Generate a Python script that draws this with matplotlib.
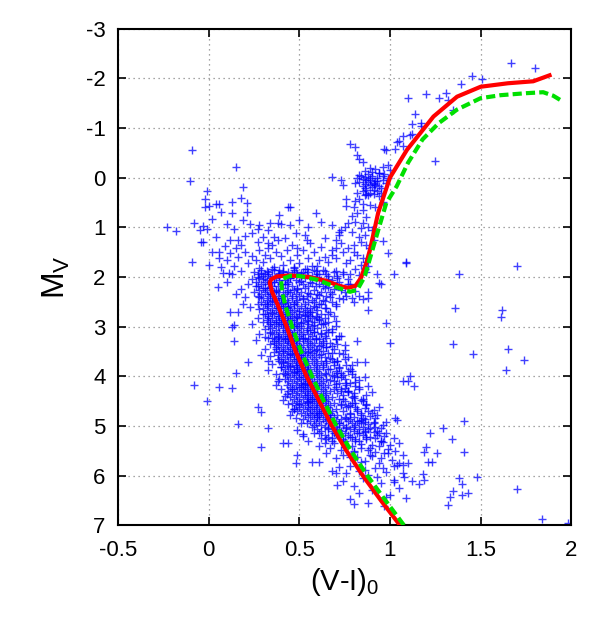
import matplotlib
matplotlib.use("Agg")
import matplotlib.pyplot as plt

plt.rcParams['font.family'] = ['Liberation Sans', 'DejaVu Sans']
plt.rcParams['mathtext.default'] = 'regular'
plt.rcParams['axes.unicode_minus'] = False

# isochrones (V-I)_0 vs M_V
iso1_vi = [1.055, 0.95, 0.85, 0.76, 0.68, 0.61, 0.54, 0.48, 0.43, 0.38, 0.35, 0.337, 0.345, 0.375,
           0.45, 0.55, 0.65, 0.72, 0.77, 0.81, 0.84, 0.87, 0.89, 0.935, 1.0, 1.094, 1.24, 1.37,
           1.50, 1.65, 1.79, 1.88]
iso1_mv = [7.0, 6.5, 6.0, 5.5, 5.0, 4.5, 4.0, 3.5, 3.0, 2.55, 2.3, 2.12, 2.05, 1.99,
           1.97, 2.0, 2.08, 2.18, 2.22, 2.18, 2.02, 1.72, 1.45, 0.71, 0.0, -0.56, -1.23, -1.63,
           -1.83, -1.9, -1.94, -2.06]

iso2_vi = [1.077, 0.975, 0.875, 0.785, 0.705, 0.635, 0.57, 0.51, 0.46, 0.425, 0.405, 0.40, 0.45,
           0.5, 0.6, 0.7, 0.78, 0.82, 0.86, 0.90, 0.94, 0.98, 1.037, 1.10, 1.18, 1.27, 1.37,
           1.5, 1.61, 1.75, 1.845, 1.90, 1.95]
iso2_mv = [7.0, 6.5, 6.0, 5.5, 5.0, 4.5, 4.0, 3.5, 3.0, 2.6, 2.3, 2.05, 1.98,
           1.98, 2.06, 2.2, 2.3, 2.26, 2.0, 1.5, 1.0, 0.51, 0.175, -0.3, -0.77, -1.1, -1.37,
           -1.6, -1.66, -1.7, -1.72, -1.65, -1.54]

# red giant branch and brighter stars
giants = [(1.67, -2.30), (1.80, -2.20), (1.45, -2.04), (1.51, -1.98), (1.39, -1.88), (1.10, -1.61),
          (1.20, -1.69), (1.27, -1.61), (1.31, -1.71), (1.32, -1.57), (1.35, -1.37), (1.14, -1.29),
          (1.12, -1.07), (1.17, -1.09), (1.17, -1.03), (1.11, -0.85), (1.07, -0.83), (1.04, -0.71),
          (1.05, -0.74), (1.03, -0.58), (1.07, -0.63), (0.98, -0.56), (1.25, -0.34), (0.78, -0.68),
          (0.81, -0.61), (0.82, -0.46), (0.83, -0.38), (0.85, -0.32), (1.12, -0.87), (0.97, -0.58),
          (0.96, -0.22), (0.99, -0.26), (1.00, -0.16), (0.94, -0.10), (0.68, -0.02), (0.73, 0.04),
          (0.74, 0.14), (0.82, 0.30), (0.81, 0.48), (0.76, 0.44), (0.83, 0.44), (0.85, 0.54),
          (0.94, 0.38), (0.96, 0.50), (0.92, 0.60), (0.85, 0.65), (0.82, 0.71), (0.87, 0.79),
          (0.85, 0.91), (0.81, 0.89), (0.77, 0.91), (0.75, 0.99), (0.73, 1.05), (0.72, 1.09),
          (0.88, 0.99), (0.90, 1.05), (0.86, 1.15), (0.83, 1.19), (0.91, 1.25), (0.87, 1.35),
          (0.89, 1.41), (0.80, 1.35), (0.77, 1.41), (0.74, 1.49), (0.70, 1.41), (0.68, 1.55),
          (0.82, 1.55), (0.85, 1.61), (0.87, 1.69), (0.78, 1.65), (0.76, 1.71), (0.84, 1.75),
          (0.88, 1.79), (0.81, 1.85), (0.87, 1.91), (0.83, 1.97), (0.78, 1.95), (0.74, 1.91),
          (0.70, 1.89), (0.99, 1.51), (1.09, 1.71), (0.95, 2.14), (1.02, 1.94), (1.38, 1.94),
          (1.70, 1.79), (0.93, 1.94), (0.96, 1.27), (0.79, 1.10), (0.84, 1.02), (0.80, 0.60),
          (0.86, 0.35), (0.89, 0.55), (0.79, 0.78), (0.84, 1.30), (0.80, 1.50), (0.86, 1.85)]

# red clump
clump_vi = [0.85, 0.88, 0.91, 0.93, 0.89, 0.86, 0.92, 0.95, 0.83, 0.90, 0.87, 0.94, 0.96, 0.86, 0.89,
            0.92, 0.84, 0.90, 0.97, 0.88, 0.82, 0.93, 0.91, 0.86, 0.98, 0.89, 0.92, 0.85, 0.87, 0.95,
            0.90, 0.93, 0.86, 0.89, 0.83, 0.91, 0.96, 0.88, 0.91, 0.85, 0.81, 0.99, 0.89, 0.94, 0.87]
clump_mv = [0.02, -0.08, 0.10, 0.00, 0.15, -0.14, 0.06, 0.20, 0.08, -0.03, 0.24, -0.10, 0.04, 0.13,
            0.30, -0.17, -0.04, 0.18, -0.07, 0.09, 0.00, 0.27, 0.33, 0.21, 0.11, -0.20, 0.14, 0.17,
            0.04, 0.31, -0.11, 0.07, -0.02, 0.05, -0.06, 0.24, -0.03, 0.36, 0.12, 0.26, 0.10, 0.01,
            0.01, 0.16, 0.34]

# blue stragglers / bright blue region
blue = [(-0.09, -0.56), (-0.10, 0.06), (0.15, -0.22), (-0.01, 0.26), (0.19, 0.18), (-0.23, 1.00),
        (-0.18, 1.07), (-0.09, 1.70), (0.45, 0.59), (0.59, 0.71), (-0.02, 0.44), (0.04, 0.54),
        (0.06, 0.54), (-0.03, 1.29), (-0.02, 0.60), (0.00, 0.58), (0.13, 0.50), (0.18, 0.42),
        (0.21, 0.52), (0.07, 0.69), (0.13, 0.71), (0.21, 0.69), (0.44, 0.60), (0.39, 0.75),
        (0.34, 0.91), (0.38, 0.91), (0.40, 0.93), (0.02, 0.83), (0.10, 0.93), (0.14, 1.03),
        (0.19, 0.85), (0.23, 0.93), (0.27, 1.03), (-0.08, 0.91), (-0.05, 1.05), (-0.03, 0.97),
        (-0.01, 1.03), (-0.04, 1.29), (0.00, 1.76), (0.02, 1.49), (0.06, 1.49), (0.06, 1.61),
        (0.10, 1.65), (0.12, 1.51), (0.15, 1.41), (0.07, 1.81), (0.08, 1.92), (0.12, 1.25),
        (0.16, 1.25), (0.18, 1.35), (0.33, 1.05), (0.36, 1.19), (0.38, 1.25), (0.33, 1.31),
        (0.33, 1.41), (0.31, 1.55), (0.48, 1.11), (0.54, 1.25), (0.56, 1.31), (0.49, 1.41),
        (0.49, 1.55), (0.76, 0.58), (0.68, 0.95), (0.72, 1.15), (0.70, 1.25), (0.73, 1.31),
        (0.68, 1.45), (0.64, 1.59), (0.61, 1.65), (0.60, 1.79), (0.57, 1.79), (0.54, 1.85),
        (0.51, 1.92), (0.20, 1.50), (0.24, 1.58), (0.28, 1.45), (0.26, 1.65), (0.22, 1.72),
        (0.30, 1.70), (0.34, 1.62), (0.37, 1.50), (0.40, 1.58), (0.43, 1.45), (0.45, 1.65),
        (0.41, 1.75), (0.36, 1.80), (0.32, 1.88), (0.28, 1.82), (0.25, 1.90), (0.18, 1.88),
        (0.14, 1.78), (0.11, 1.92), (0.16, 1.60), (0.27, 1.30), (0.30, 1.20), (0.42, 1.22),
        (0.46, 1.35), (0.52, 1.45), (0.55, 1.62), (0.58, 1.50), (0.62, 1.40), (0.64, 1.22),
        (0.50, 1.72), (0.47, 1.82), (0.39, 1.92), (0.53, 1.15), (0.24, 1.12), (0.09, 1.38),
        (0.04, 1.20), (0.28, 0.95), (0.45, 0.95), (0.50, 0.85), (0.62, 0.90), (0.55, 1.00),
        (0.66, 1.70), (0.70, 1.62), (0.64, 1.88), (0.60, 1.95), (0.35, 1.35), (0.20, 1.18),
        (0.13, 1.95), (0.12, 2.70), (0.16, 2.70), (0.13, 3.00), (0.14, 2.96), (0.14, 3.29),
        (0.15, 3.93), (0.22, 3.71), (-0.08, 4.17), (-0.01, 4.50), (0.06, 4.21), (0.13, 4.23),
        (0.16, 4.96), (0.29, 5.42), (0.27, 4.62), (0.29, 4.72), (0.33, 5.04), (0.41, 5.34),
        (0.44, 5.34), (0.48, 5.75), (0.49, 5.58), (0.57, 5.73), (0.70, 5.95), (0.80, 6.57),
        (0.10, 2.10), (0.15, 2.35), (0.05, 2.20), (0.19, 2.55)]

# turnoff and subgiants
turnoff = [(0.30, 2.05), (0.33, 1.95), (0.36, 2.10), (0.39, 1.98), (0.42, 2.15), (0.45, 2.02),
           (0.48, 1.90), (0.51, 2.08), (0.54, 1.97), (0.57, 2.12), (0.60, 2.01), (0.63, 2.18),
           (0.66, 2.05), (0.69, 2.25), (0.72, 2.10), (0.75, 2.30), (0.78, 2.15), (0.31, 2.22),
           (0.34, 2.35), (0.37, 2.28), (0.40, 2.42), (0.43, 2.30), (0.46, 2.38), (0.49, 2.25),
           (0.52, 2.45), (0.55, 2.32), (0.58, 2.50), (0.61, 2.36), (0.64, 2.48), (0.67, 2.40),
           (0.70, 2.55), (0.26, 2.18), (0.28, 2.40), (0.32, 2.55), (0.35, 2.48), (0.38, 2.62),
           (0.41, 2.52), (0.44, 2.60), (0.47, 2.55), (0.50, 2.68), (0.53, 2.62), (0.56, 2.70),
           (0.24, 2.05), (0.29, 1.92), (0.35, 1.85), (0.41, 1.88), (0.47, 1.80), (0.53, 1.85),
           (0.59, 1.88), (0.65, 1.95), (0.71, 1.98), (0.77, 2.05), (0.81, 2.28), (0.79, 2.42),
           (0.74, 2.45), (0.83, 2.38), (0.85, 2.45), (0.88, 2.30), (0.22, 2.15), (0.20, 2.40),
           (0.18, 2.25), (0.23, 2.60), (0.80, 2.50), (0.94, 2.12), (0.88, 2.42), (0.88, 2.66),
           (0.82, 3.29), (0.86, 3.71), (0.25, 2.30), (0.27, 2.55), (0.27, 2.00), (0.62, 2.55),
           (0.65, 2.62), (0.59, 2.60), (0.73, 2.20), (0.76, 2.38), (0.68, 2.35), (0.66, 2.20)]

# dense part of the upper main sequence, one row per magnitude step
band_mv = [1.86, 1.90, 1.94, 1.98, 2.02, 2.06, 2.10, 2.14, 2.18, 2.22, 2.26, 2.30, 2.34, 2.38,
           2.42, 2.46, 2.50, 2.54, 2.58, 2.62, 2.66, 2.70, 2.74, 2.78, 2.82, 2.86, 2.90, 2.94,
           2.98, 3.02, 3.06, 3.10, 3.14, 3.18, 3.22, 3.26, 3.30, 3.34, 3.38, 3.42, 3.46, 3.50,
           3.54, 3.58, 3.62, 3.66, 3.70, 3.74, 3.78, 3.82, 3.86, 3.90, 3.94, 3.98, 4.02, 4.06,
           4.10, 4.14, 4.18, 4.22, 4.26, 4.30, 4.34, 4.38, 4.42, 4.46, 4.50, 4.54, 4.58, 4.62,
           4.66, 4.70, 4.74, 4.78, 4.82, 4.86, 4.90, 4.94, 4.98, 5.02, 5.06, 5.10, 5.14, 5.18,
           5.22, 5.26, 5.30]
band_vi = [[0.29, 0.36, 0.39, 0.47, 0.58, 0.63],
           [0.33, 0.41, 0.44, 0.52, 0.55, 0.69],
           [0.27, 0.31, 0.38, 0.46, 0.49, 0.61, 0.74],
           [0.30, 0.35, 0.43, 0.51, 0.57, 0.66],
           [0.28, 0.34, 0.37, 0.45, 0.53, 0.59, 0.71],
           [0.32, 0.39, 0.42, 0.48, 0.62, 0.68],
           [0.26, 0.31, 0.36, 0.44, 0.50, 0.56, 0.65],
           [0.29, 0.33, 0.40, 0.43, 0.52, 0.61, 0.77],
           [0.27, 0.35, 0.38, 0.46, 0.55, 0.59, 0.70],
           [0.30, 0.34, 0.41, 0.49, 0.53, 0.64],
           [0.28, 0.32, 0.37, 0.44, 0.47, 0.58, 0.73],
           [0.31, 0.36, 0.39, 0.45, 0.51, 0.62, 0.67],
           [0.29, 0.34, 0.42, 0.48, 0.56, 0.60],
           [0.27, 0.33, 0.38, 0.41, 0.50, 0.54, 0.65],
           [0.30, 0.35, 0.40, 0.46, 0.52, 0.59, 0.72],
           [0.32, 0.37, 0.43, 0.49, 0.57, 0.63],
           [0.29, 0.34, 0.39, 0.44, 0.48, 0.55, 0.68],
           [0.31, 0.36, 0.41, 0.47, 0.53, 0.61],
           [0.33, 0.38, 0.42, 0.45, 0.51, 0.58, 0.70],
           [0.30, 0.35, 0.40, 0.44, 0.49, 0.56, 0.64],
           [0.32, 0.37, 0.43, 0.47, 0.54, 0.60],
           [0.34, 0.39, 0.41, 0.46, 0.52, 0.57, 0.67],
           [0.31, 0.36, 0.42, 0.45, 0.50, 0.55, 0.62],
           [0.33, 0.38, 0.44, 0.48, 0.53, 0.59, 0.69],
           [0.35, 0.40, 0.43, 0.47, 0.51, 0.57, 0.64],
           [0.32, 0.37, 0.41, 0.46, 0.54, 0.61],
           [0.34, 0.39, 0.44, 0.49, 0.52, 0.58, 0.66],
           [0.36, 0.40, 0.42, 0.48, 0.55, 0.63],
           [0.33, 0.38, 0.43, 0.47, 0.51, 0.57, 0.70],
           [0.35, 0.41, 0.45, 0.50, 0.54, 0.60],
           [0.37, 0.42, 0.44, 0.49, 0.56, 0.65],
           [0.34, 0.39, 0.43, 0.47, 0.52, 0.58, 0.68],
           [0.36, 0.41, 0.46, 0.51, 0.55, 0.62],
           [0.38, 0.43, 0.45, 0.50, 0.57, 0.64, 0.73],
           [0.35, 0.40, 0.44, 0.48, 0.53, 0.59],
           [0.37, 0.42, 0.47, 0.52, 0.56, 0.61, 0.70],
           [0.39, 0.44, 0.46, 0.50, 0.55, 0.63],
           [0.36, 0.41, 0.45, 0.49, 0.54, 0.58, 0.67],
           [0.38, 0.43, 0.48, 0.52, 0.57, 0.62, 0.75],
           [0.40, 0.45, 0.47, 0.51, 0.56, 0.65],
           [0.37, 0.42, 0.46, 0.50, 0.55, 0.60, 0.69],
           [0.39, 0.44, 0.49, 0.53, 0.58, 0.63],
           [0.41, 0.46, 0.48, 0.52, 0.57, 0.66, 0.72],
           [0.38, 0.43, 0.47, 0.51, 0.56, 0.61],
           [0.40, 0.45, 0.50, 0.54, 0.59, 0.64, 0.77],
           [0.42, 0.47, 0.49, 0.53, 0.58, 0.68],
           [0.39, 0.44, 0.48, 0.52, 0.57, 0.62, 0.71],
           [0.41, 0.46, 0.51, 0.55, 0.60, 0.65],
           [0.43, 0.48, 0.50, 0.54, 0.59, 0.69, 0.76],
           [0.40, 0.45, 0.49, 0.53, 0.58, 0.63, 0.72],
           [0.42, 0.47, 0.52, 0.56, 0.61, 0.67],
           [0.44, 0.49, 0.51, 0.55, 0.60, 0.70, 0.79],
           [0.41, 0.46, 0.50, 0.54, 0.59, 0.64, 0.73],
           [0.43, 0.48, 0.53, 0.57, 0.62, 0.68],
           [0.45, 0.50, 0.52, 0.56, 0.61, 0.71, 0.81],
           [0.42, 0.47, 0.51, 0.55, 0.60, 0.65, 0.75],
           [0.44, 0.49, 0.54, 0.58, 0.63, 0.69],
           [0.46, 0.51, 0.53, 0.57, 0.62, 0.72, 0.78],
           [0.43, 0.48, 0.52, 0.56, 0.61, 0.66, 0.76],
           [0.45, 0.50, 0.55, 0.59, 0.64, 0.70, 0.83],
           [0.47, 0.52, 0.54, 0.58, 0.63, 0.73],
           [0.44, 0.49, 0.53, 0.57, 0.62, 0.67, 0.77],
           [0.46, 0.51, 0.56, 0.60, 0.65, 0.71, 0.80],
           [0.48, 0.53, 0.55, 0.59, 0.64, 0.74],
           [0.45, 0.50, 0.54, 0.58, 0.63, 0.68, 0.79],
           [0.47, 0.52, 0.57, 0.61, 0.66, 0.72, 0.85],
           [0.49, 0.54, 0.56, 0.60, 0.65, 0.75],
           [0.46, 0.51, 0.55, 0.59, 0.64, 0.69, 0.81],
           [0.48, 0.53, 0.58, 0.62, 0.67, 0.73, 0.87],
           [0.50, 0.55, 0.57, 0.61, 0.66, 0.76],
           [0.47, 0.52, 0.56, 0.60, 0.65, 0.70, 0.82],
           [0.49, 0.54, 0.59, 0.63, 0.68, 0.74, 0.88],
           [0.51, 0.56, 0.58, 0.62, 0.67, 0.78],
           [0.53, 0.57, 0.61, 0.66, 0.71, 0.84],
           [0.55, 0.60, 0.64, 0.69, 0.75, 0.80],
           [0.52, 0.58, 0.63, 0.67, 0.73, 0.86],
           [0.56, 0.61, 0.65, 0.70, 0.77, 0.83],
           [0.54, 0.59, 0.66, 0.72, 0.79, 0.91],
           [0.58, 0.62, 0.68, 0.74, 0.81],
           [0.57, 0.64, 0.70, 0.76, 0.85, 0.92],
           [0.60, 0.66, 0.71, 0.78, 0.88],
           [0.62, 0.68, 0.73, 0.80, 0.86],
           [0.61, 0.69, 0.75, 0.83, 0.94],
           [0.64, 0.71, 0.77, 0.85],
           [0.66, 0.72, 0.79, 0.89],
           [0.65, 0.74, 0.81, 0.87],
           [0.68, 0.75, 0.83, 0.95]]

# scattered main-sequence stars
ms = [(0.30, 2.75), (0.33, 2.82), (0.35, 2.72), (0.37, 2.90), (0.39, 2.78), (0.41, 2.95), (0.43, 2.74),
      (0.45, 2.86), (0.47, 2.98), (0.49, 2.80), (0.51, 2.92), (0.53, 2.76), (0.55, 2.88), (0.58, 2.96),
      (0.61, 2.84), (0.34, 2.95), (0.27, 2.82), (0.24, 2.95), (0.56, 2.78),
      (0.64, 2.92), (0.66, 2.75), (0.70, 2.88),
      (0.31, 3.05), (0.34, 3.12), (0.38, 3.20), (0.42, 3.25), (0.46, 3.16), (0.48, 3.28), (0.52, 3.22),
      (0.54, 3.06), (0.59, 3.26), (0.62, 3.12), (0.65, 3.24), (0.33, 3.22), (0.28, 3.15), (0.58, 3.10),
      (0.68, 3.05), (0.72, 3.18), (0.26, 3.28),
      (0.34, 3.35), (0.37, 3.42), (0.41, 3.50), (0.45, 3.55), (0.49, 3.46), (0.51, 3.58), (0.55, 3.52),
      (0.59, 3.48), (0.62, 3.56), (0.65, 3.42), (0.68, 3.54), (0.36, 3.52), (0.31, 3.45), (0.61, 3.40),
      (0.71, 3.35), (0.75, 3.48), (0.29, 3.58), (0.63, 3.33),
      (0.38, 3.65), (0.41, 3.72), (0.45, 3.80), (0.49, 3.85), (0.53, 3.76), (0.55, 3.88), (0.63, 3.78),
      (0.66, 3.86), (0.69, 3.72), (0.72, 3.84), (0.40, 3.82), (0.35, 3.75), (0.65, 3.70),
      (0.75, 3.65), (0.79, 3.78), (0.33, 3.88), (0.67, 3.63), (0.77, 3.90), (0.82, 3.72),
      (0.42, 3.95), (0.47, 3.92), (0.53, 4.15), (0.59, 4.18), (0.65, 3.96), (0.67, 4.08), (0.70, 4.16),
      (0.73, 4.02), (0.76, 4.14), (0.39, 4.05), (0.69, 4.00), (0.79, 3.95), (0.83, 4.08), (0.37, 4.18),
      (0.71, 3.93), (0.81, 4.20), (0.86, 4.02),
      (0.46, 4.25), (0.51, 4.22), (0.57, 4.45), (0.63, 4.48), (0.69, 4.26), (0.74, 4.46), (0.77, 4.32),
      (0.80, 4.44), (0.43, 4.35), (0.73, 4.30), (0.83, 4.25), (0.87, 4.38), (0.41, 4.48), (0.75, 4.23),
      (0.85, 4.50), (0.90, 4.32),
      (0.50, 4.55), (0.55, 4.52), (0.61, 4.75), (0.67, 4.78), (0.73, 4.56), (0.78, 4.76), (0.81, 4.62),
      (0.84, 4.74), (0.47, 4.65), (0.77, 4.60), (0.87, 4.55), (0.91, 4.68), (0.45, 4.78), (0.79, 4.53),
      (0.89, 4.80), (0.94, 4.62),
      (0.60, 4.82), (0.66, 5.05), (0.72, 5.08), (0.78, 4.86), (0.83, 5.06), (0.86, 4.92), (0.89, 5.04),
      (0.51, 4.95), (0.82, 4.90), (0.92, 4.85), (0.96, 4.98), (0.49, 5.08), (0.84, 4.94), (0.93, 5.10),
      (0.98, 4.92),
      (0.58, 5.15), (0.62, 5.25), (0.69, 5.35), (0.75, 5.42), (0.81, 5.30), (0.84, 5.45), (0.87, 5.22),
      (0.90, 5.38), (0.93, 5.18), (0.96, 5.32), (0.99, 5.46), (0.73, 5.48), (0.67, 5.45), (0.55, 5.30),
      (0.61, 5.40), (0.88, 5.48), (0.94, 5.40), (1.02, 5.25), (0.79, 5.40), (0.91, 5.12),
      (0.97, 5.20), (1.05, 5.35), (0.52, 5.16),
      (0.65, 5.55), (0.70, 5.65), (0.74, 5.58), (0.78, 5.80), (0.82, 5.62), (0.86, 5.88), (0.90, 5.60),
      (0.94, 5.75), (0.98, 5.92), (1.01, 5.68), (0.76, 5.95), (0.84, 5.72), (0.92, 5.52), (0.96, 5.85),
      (1.04, 5.78), (0.88, 5.98), (0.72, 5.82), (0.80, 5.52), (0.68, 5.90), (1.07, 5.58), (0.99, 5.55),
      (0.61, 5.72),
      (0.74, 6.10), (0.80, 6.22), (0.85, 6.05), (0.90, 6.30), (0.95, 6.15), (1.00, 6.40), (0.88, 6.55),
      (0.97, 6.62), (1.05, 6.25), (1.09, 6.45), (0.83, 6.35), (0.78, 6.48), (1.12, 6.12), (0.93, 6.02),
      (1.02, 6.08), (0.71, 6.20)]

# redder side of the main sequence (binaries) and a few blue-side stars
ms_wide = [(0.80, 4.40), (0.84, 4.47), (0.78, 4.58), (0.86, 4.64), (0.82, 4.71), (0.90, 4.75),
           (0.76, 4.84), (0.84, 4.88), (0.93, 4.79), (0.88, 4.97), (0.80, 5.03), (0.95, 5.05),
           (0.86, 5.12), (0.78, 5.22), (0.92, 5.24), (0.98, 5.15), (0.84, 5.36), (0.95, 5.30),
           (1.00, 5.38), (0.74, 5.30), (0.80, 5.50), (0.89, 5.58), (0.95, 5.64), (0.86, 5.70),
           (0.78, 5.62), (1.03, 5.50), (0.92, 5.85), (0.83, 5.90), (0.77, 4.30), (0.81, 4.12),
           (0.74, 3.98), (0.78, 3.85), (0.71, 3.70), (0.74, 3.55), (0.68, 3.40), (0.70, 3.25),
           (0.66, 3.10), (0.62, 2.95), (0.60, 2.80), (0.88, 4.20), (0.85, 4.85), (0.97, 5.55),
           (0.91, 4.92), (0.89, 5.45), (0.72, 4.95), (0.70, 5.15), (0.76, 5.05), (0.82, 5.15),
           (0.68, 5.25), (0.64, 5.35), (0.34, 3.60), (0.37, 3.95), (0.40, 4.25), (0.44, 4.55),
           (0.48, 4.85), (0.36, 3.30), (0.31, 3.20), (0.33, 3.70), (0.42, 4.40), (0.46, 4.70),
           (0.52, 5.20), (0.38, 4.10), (0.30, 2.90), (0.28, 2.65)]

# field stars / outliers on the red side
field = [(1.36, 2.62), (1.62, 2.66), (1.61, 2.80), (1.35, 3.35), (1.46, 3.55), (1.65, 3.45), (1.64, 3.87),
         (1.74, 3.67), (0.98, 2.92), (1.00, 3.33), (1.07, 4.09), (1.10, 4.09), (1.11, 3.99), (1.13, 4.19),
         (1.03, 4.84), (1.04, 4.88), (1.41, 4.90), (1.29, 5.04), (1.22, 5.14), (1.34, 5.26), (1.20, 5.42),
         (1.19, 5.52), (1.21, 5.73), (1.23, 5.73), (1.26, 5.54), (1.41, 5.52), (1.05, 5.75), (1.07, 5.78),
         (1.10, 5.75), (1.02, 5.80), (1.07, 5.95), (1.08, 6.03), (1.18, 5.97), (1.19, 6.09), (1.16, 6.17),
         (1.02, 6.13), (1.38, 6.05), (1.48, 6.03), (1.40, 6.17), (1.35, 6.31), (1.33, 6.43), (1.32, 6.59),
         (1.40, 6.39), (1.43, 6.35), (1.70, 6.27), (1.84, 6.87), (1.98, 6.95), (0.98, 6.43), (1.09, 1.70)]

xticks = [-0.5, 0, 0.5, 1, 1.5, 2]
xticklabels = ['-0.5', '0', '0.5', '1', '1.5', '2']
yticks = [-3, -2, -1, 0, 1, 2, 3, 4, 5, 6, 7]

fig = plt.figure(figsize=(6.11, 6.23), dpi=100)
ax = fig.add_axes([0.193, 0.157, 0.742, 0.797])

# collect every star
stars = giants + blue + turnoff + ms + ms_wide + field + list(zip(clump_vi, clump_mv))
for m, row in zip(band_mv, band_vi):
    stars += [(v, m) for v in row]
vi = [p[0] for p in stars]
mv = [p[1] for p in stars]
ax.plot(vi, mv, '+', color='#0000ff', ms=6, mew=1.0, alpha=0.75, zorder=2)

ax.plot(iso1_vi, iso1_mv, color='#ff0000', lw=3, zorder=3)
ax.plot(iso2_vi, iso2_mv, color='#00e000', lw=3, ls=(0, (2.2, 1.0)), zorder=4)

ax.set_xlim(-0.5, 2)
ax.set_ylim(7, -3)
ax.set_xticks(xticks)
ax.set_xticklabels(xticklabels)
ax.set_yticks(yticks)
ax.set_yticklabels([str(t) for t in yticks])

ax.grid(True, color='#888888', ls=(0, (1, 3)), lw=0.9)
ax.set_axisbelow(True)
ax.tick_params(direction='in', length=6, width=1.2, top=True, right=True, labelsize=16)
ax.tick_params(axis='x', pad=11)
ax.tick_params(axis='y', pad=9)
for s in ax.spines.values():
    s.set_linewidth(1.5)

ax.set_xlabel('(V-I)$_0$', fontsize=21, labelpad=3)
ax.set_ylabel('M$_V$', fontsize=23, labelpad=10)

fig.savefig('out.png', dpi=100)
